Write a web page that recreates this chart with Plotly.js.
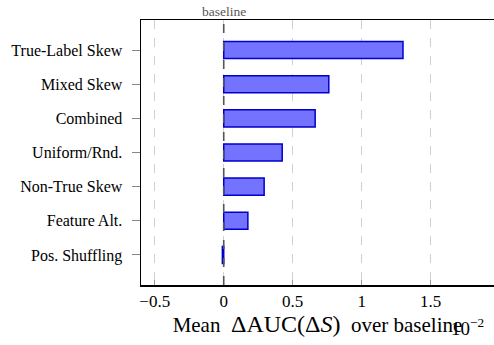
<!DOCTYPE html>
<html>
<head>
<meta charset="utf-8">
<script src="https://cdn.plot.ly/plotly-3.0.1.min.js"></script>
<style>html,body{margin:0;padding:0;background:#fff;}#chart{width:494px;height:345px;}</style>
</head>
<body>
<div id="chart"></div>
<script>
const categories = ["Pos. Shuffling", "Feature Alt.", "Non-True Skew", "Uniform/Rnd.", "Combined", "Mixed Skew", "True-Label Skew"];
const values = [-0.01, 0.175, 0.293, 0.424, 0.663, 0.762, 1.30];
const xTickVals = [-0.5, 0, 0.5, 1, 1.5];
const xTickText = ["\u22120.5", "0", "0.5", "1", "1.5"];

const serif = "Liberation Serif";

const trace = {
  type: "bar",
  orientation: "h",
  y: categories,
  x: values,
  width: 0.5,
  marker: {color: "rgb(115,115,255)", line: {color: "rgb(0,0,204)", width: 1.5}},
  hoverinfo: "none"
};

const layout = {
  width: 494, height: 345,
  margin: {l: 141, r: 0, t: 20, b: 60},
  paper_bgcolor: "#fff", plot_bgcolor: "#fff",
  showlegend: false,
  font: {family: serif, color: "#000"},
  xaxis: {
    range: [-0.6, 1.96],
    tickvals: xTickVals, ticktext: xTickText,
    ticks: "inside", ticklen: 5, tickcolor: "#999", tickwidth: 1,
    showgrid: true, gridcolor: "#d0d0d0", griddash: "dash", gridwidth: 1,
    zeroline: false,
    showline: true, linecolor: "#000", linewidth: 1.5, mirror: true,
    tickfont: {family: serif, size: 17, color: "#000"},
    title: {text: "Mean\u2002<span style=\"font-size:24px\">\u0394AUC(\u0394<i>S</i>)</span>\u2002over baseline", font: {family: serif, size: 21, color: "#000"}, standoff: 6}
  },
  yaxis: {
    type: "category",
    range: [-0.88, 6.88],
    ticks: "outside", ticklen: 8, tickcolor: "#888", tickwidth: 1,
    ticklabelstandoff: 6,
    showgrid: false, zeroline: false,
    showline: true, linecolor: "#000", linewidth: 1.5, mirror: true,
    tickfont: {family: serif, size: 16, color: "#000"}
  },
  shapes: [{
    type: "line", xref: "x", yref: "paper", x0: 0, x1: 0, y0: 0, y1: 1,
    line: {color: "#555", width: 1.6, dash: "dash"}, layer: "above"
  }],
  annotations: [
    {xref: "x", yref: "paper", x: 0, y: 1, yanchor: "bottom", xanchor: "center", yshift: -1,
     text: "baseline", showarrow: false, font: {family: serif, size: 13.5, color: "#555"}},
    {xref: "paper", yref: "paper", x: 0.872, y: 0, yanchor: "top", xanchor: "left", yshift: -28,
     text: "10<sup>\u22122</sup>", showarrow: false, font: {family: serif, size: 19, color: "#000"}}
  ]
};

Plotly.newPlot("chart", [trace], layout, {staticPlot: true, displayModeBar: false});
</script>
</body>
</html>
